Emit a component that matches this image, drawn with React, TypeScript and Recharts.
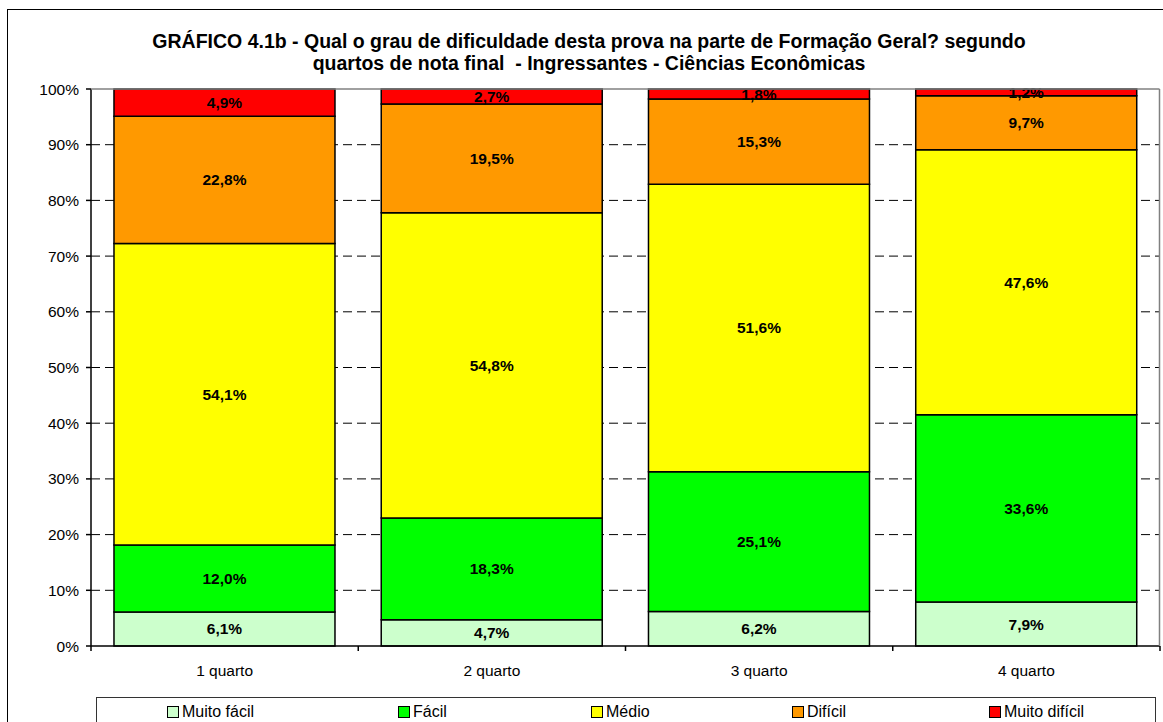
import { Bar, BarChart, CartesianGrid, LabelList, XAxis, YAxis } from "recharts";

const categories = ["1 quarto", "2 quarto", "3 quarto", "4 quarto"];
const muitoFacil = [6.1, 4.7, 6.2, 7.9];
const facil = [12.0, 18.3, 25.1, 33.6];
const medio = [54.1, 54.8, 51.6, 47.6];
const dificil = [22.8, 19.5, 15.3, 9.7];
const muitoDificil = [4.9, 2.7, 1.8, 1.2];
const yTicks = [0, 0.1, 0.2, 0.3, 0.4, 0.5, 0.6, 0.7, 0.8, 0.9, 1];

const seriesList = [
  { key: "muitoFacil", name: "Muito fácil", color: "#CCFFCC", values: muitoFacil, legendX: 167 },
  { key: "facil", name: "Fácil", color: "#00FF00", values: facil, legendX: 398 },
  { key: "medio", name: "Médio", color: "#FFFF00", values: medio, legendX: 591 },
  { key: "dificil", name: "Difícil", color: "#FF9900", values: dificil, legendX: 792 },
  { key: "muitoDificil", name: "Muito difícil", color: "#FF0000", values: muitoDificil, legendX: 989 },
];

const data = categories.map((category, i) => {
  const row: Record<string, string | number> = { category };
  seriesList.forEach((s) => {
    row[s.key] = s.values[i];
  });
  return row;
});

const font = "'Liberation Sans', Arial, sans-serif";

function formatLabel(value: unknown) {
  return `${Number(value).toFixed(1).replace(".", ",")}%`;
}

function XTick(props: any) {
  const { x, y, payload, index } = props;
  const half = payload.offset ?? 0;
  const isLast = index === categories.length - 1;
  return (
    <g>
      <line x1={x - half} x2={x - half} y1={y - 8} y2={y - 3} stroke="#000" strokeWidth={1.5} />
      {isLast ? (
        <line x1={x + half} x2={x + half} y1={y - 8} y2={y - 3} stroke="#000" strokeWidth={1.5} />
      ) : null}
      <text x={x} y={y + 22} textAnchor="middle" fontSize={15.5} fontFamily={font} fill="#000">
        {payload.value}
      </text>
    </g>
  );
}

export default function App() {
  return (
    <div style={{ position: "absolute", left: 0, top: 0, width: 1163, height: 722, overflow: "hidden", background: "#fff" }}>
      <div
        style={{
          position: "absolute",
          left: 7,
          top: 9,
          width: 1170,
          height: 730,
          border: "1.5px solid #000",
        }}
      />
      <div
        style={{
          position: "absolute",
          left: 0,
          width: 1178,
          top: 30,
          textAlign: "center",
          fontFamily: font,
          fontWeight: "bold",
          fontSize: 19.5,
          lineHeight: "22px",
          color: "#000",
        }}
      >
        GRÁFICO 4.1b - Qual o grau de dificuldade desta prova na parte de Formação Geral? segundo
        <br />
        quartos de nota final&nbsp; - Ingressantes - Ciências Econômicas
      </div>
      <div style={{ position: "absolute", left: 0, top: 0 }}>
        <BarChart
          width={1163}
          height={722}
          data={data}
          stackOffset="expand"
          barCategoryGap="8.6%"
          margin={{ top: 89, right: 3, bottom: 36, left: 0 }}
        >
          <CartesianGrid
            horizontal
            vertical={false}
            stroke="#000"
            strokeDasharray="9 5"
            horizontalValues={[0.1, 0.2, 0.3, 0.4, 0.5, 0.6, 0.7, 0.8, 0.9]}
          />
          <XAxis
            dataKey="category"
            height={40}
            stroke="#000"
            strokeWidth={1.5}
            tickLine={false}
            tick={<XTick />}
            interval={0}
          />
          <YAxis
            width={91}
            domain={[0, 1]}
            ticks={yTicks}
            stroke="#000"
            strokeWidth={1.5}
            tickSize={5}
            tickMargin={7}
            tickFormatter={(v) => `${Math.round(Number(v) * 100)}%`}
            tick={{ fontSize: 15.5, fontFamily: font, fill: "#000" }}
          />
          {seriesList.map((s) => (
            <Bar
              key={s.key}
              dataKey={s.key}
              name={s.name}
              stackId="a"
              fill={s.color}
              stroke="#000"
              strokeWidth={1.5}
              isAnimationActive={false}
            >
              <LabelList
                dataKey={s.key}
                position="center"
                formatter={formatLabel}
                style={{ fontSize: 15.5, fontWeight: "bold", fontFamily: font, fill: "#000" }}
              />
            </Bar>
          ))}
        </BarChart>
      </div>
      <svg style={{ position: "absolute", left: 0, top: 0, pointerEvents: "none" }} width={1163} height={722}>
        <line x1={91} x2={1159.5} y1={89} y2={89} stroke="#808080" strokeWidth={1.5} />
        <line x1={1159.5} x2={1159.5} y1={89} y2={646} stroke="#808080" strokeWidth={1.5} />
      </svg>
      <div
        style={{
          position: "absolute",
          left: 96,
          top: 697,
          width: 1058,
          height: 40,
          border: "1px solid #333",
        }}
      />
      {seriesList.map((s) => (
        <div
          key={s.key}
          style={{
            position: "absolute",
            left: s.legendX,
            top: 703,
            display: "flex",
            alignItems: "center",
            fontFamily: font,
            fontSize: 16,
            color: "#000",
          }}
        >
          <span
            style={{
              display: "inline-block",
              width: 10,
              height: 10,
              background: s.color,
              border: "1px solid #000",
              marginRight: 3,
            }}
          />
          {s.name}
        </div>
      ))}
    </div>
  );
}
